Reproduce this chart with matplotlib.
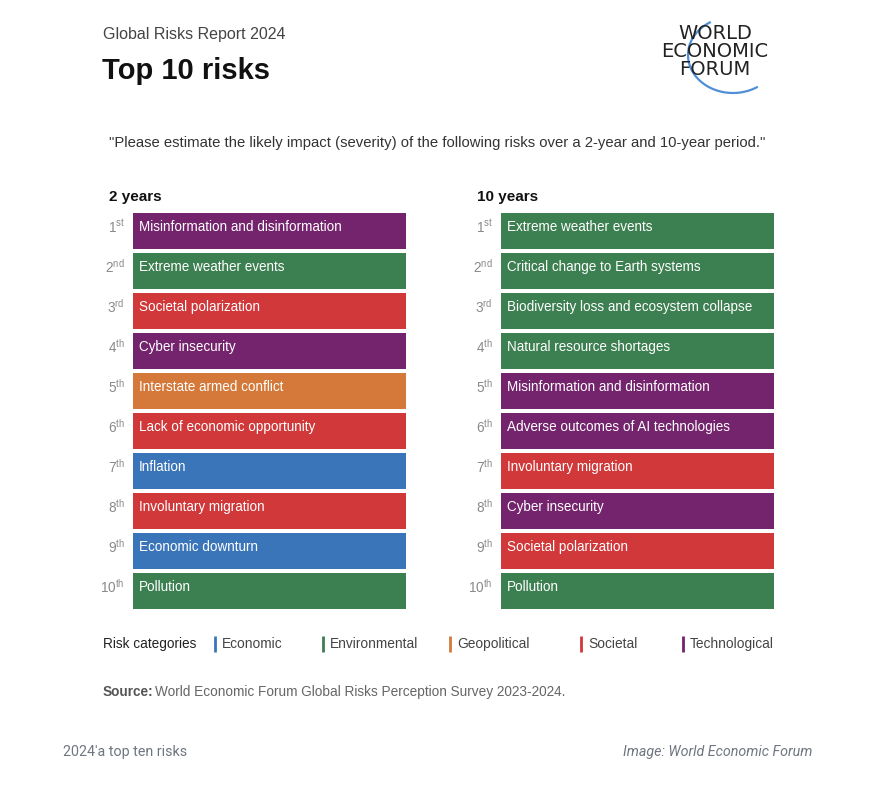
import matplotlib
matplotlib.use("Agg")
import matplotlib.pyplot as plt
from matplotlib.patches import Arc

plt.rcParams['font.family'] = ['Liberation Sans', 'DejaVu Sans']
plt.rcParams['mathtext.fontset'] = 'custom'
plt.rcParams['mathtext.rm'] = 'Liberation Sans'

ranks = list(range(1, 11))
rank_suffix = ["st", "nd", "rd", "th", "th", "th", "th", "th", "th", "th"]

risks_2y = ["Misinformation and disinformation", "Extreme weather events",
            "Societal polarization", "Cyber insecurity", "Interstate armed conflict",
            "Lack of economic opportunity", "Inflation", "Involuntary migration",
            "Economic downturn", "Pollution"]
cats_2y = ["Technological", "Environmental", "Societal", "Technological", "Geopolitical",
           "Societal", "Economic", "Societal", "Economic", "Environmental"]

risks_10y = ["Extreme weather events", "Critical change to Earth systems",
             "Biodiversity loss and ecosystem collapse", "Natural resource shortages",
             "Misinformation and disinformation", "Adverse outcomes of AI technologies",
             "Involuntary migration", "Cyber insecurity", "Societal polarization", "Pollution"]
cats_10y = ["Environmental", "Environmental", "Environmental", "Environmental", "Technological",
            "Technological", "Societal", "Technological", "Societal", "Environmental"]

categories = ["Economic", "Environmental", "Geopolitical", "Societal", "Technological"]
cat_colors = {"Economic": "#3a75b9", "Environmental": "#3c7f51", "Geopolitical": "#d4793a",
              "Societal": "#d0383a", "Technological": "#74236d"}

W, H = 870, 788
fig = plt.figure(figsize=(W / 100, H / 100), dpi=100)
fig.patch.set_facecolor("white")

# overlay axes in pixel coordinates for free text
bg = fig.add_axes([0, 0, 1, 1])
bg.set_xlim(0, W)
bg.set_ylim(H, 0)
bg.axis("off")


def fx(px):
    return px / W


def fy(py):
    return 1 - py / H


def panel(left_px, right_px, risks, cats, header):
    top_px, bot_px = 211, 611
    ax = fig.add_axes([fx(left_px), fy(bot_px), fx(right_px - left_px), (bot_px - top_px) / H])
    ax.set_xlim(0, 1)
    ax.set_ylim(10.5, 0.5)
    ax.axis("off")
    ax.barh(ranks, [1] * len(ranks), height=0.9, left=0,
            color=[cat_colors[c] for c in cats], edgecolor="none")
    for r, name, suf in zip(ranks, risks, rank_suffix):
        ax.annotate(name, xy=(0, r), xytext=(6, 4), textcoords="offset pixels",
                    ha="left", va="center", color="white", fontsize=9.75)
        ax.annotate(str(r) + r"$^{\mathrm{" + suf + "}}$", xy=(0, r), xytext=(-8, 4),
                    textcoords="offset pixels", ha="right", va="center",
                    color="#8a8a8a", fontsize=9.8)
    bg.text(left_px - 24, 197, header, ha="left", va="center", fontsize=11,
            fontweight="bold", color="#111111")


panel(133, 406, risks_2y, cats_2y, "2 years")
panel(501, 774, risks_10y, cats_10y, "10 years")

# titles
bg.text(103, 34, "Global Risks Report 2024", ha="left", va="center", fontsize=11.5,
        color="#444444")
bg.text(102, 71, "Top 10 risks", ha="left", va="center", fontsize=21,
        fontweight="bold", color="#111111")
bg.text(109, 143,
        "\"Please estimate the likely impact (severity) of the following risks over a 2-year and 10-year period.\"",
        ha="left", va="center", fontsize=10.75, color="#333333")

# logo
bg.add_patch(Arc((733, 55), 90, 76, theta1=52, theta2=236, color="#4f8fd6", lw=1.6))
for txt, yy in [("WORLD", 33), ("ECONOMIC", 51), ("FORUM", 69)]:
    bg.text(715, yy, txt, ha="center", va="center", fontsize=14, color="#222222",
            family=["DejaVu Sans"])

# legend
bg.text(103, 644, "Risk categories", ha="left", va="center", fontsize=9.8, color="#222222")
leg_x = [215, 323, 450, 581, 683]
for x, c in zip(leg_x, categories):
    bg.plot([x, x], [636, 652], color=cat_colors[c], lw=2.0, solid_capstyle="butt")
    bg.text(x + 7, 644, c, ha="left", va="center", fontsize=9.9, color="#444444")

# source
bg.text(103, 692, "Source:", ha="left", va="center", fontsize=9.8, fontweight="bold",
        color="#555555")
bg.text(155, 692, "World Economic Forum Global Risks Perception Survey 2023-2024.",
        ha="left", va="center", fontsize=9.8, color="#666666")

# footer
bg.text(63, 752, "2024'a top ten risks", ha="left", va="center", fontsize=10.3,
        color="#6f7580", family=["Roboto", "DejaVu Sans"])
bg.text(812, 752, "Image: World Economic Forum", ha="right", va="center", fontsize=10.3,
        color="#6f7580", style="italic", family=["Roboto", "DejaVu Sans"])

fig.savefig("out.png", dpi=100, facecolor="white")
